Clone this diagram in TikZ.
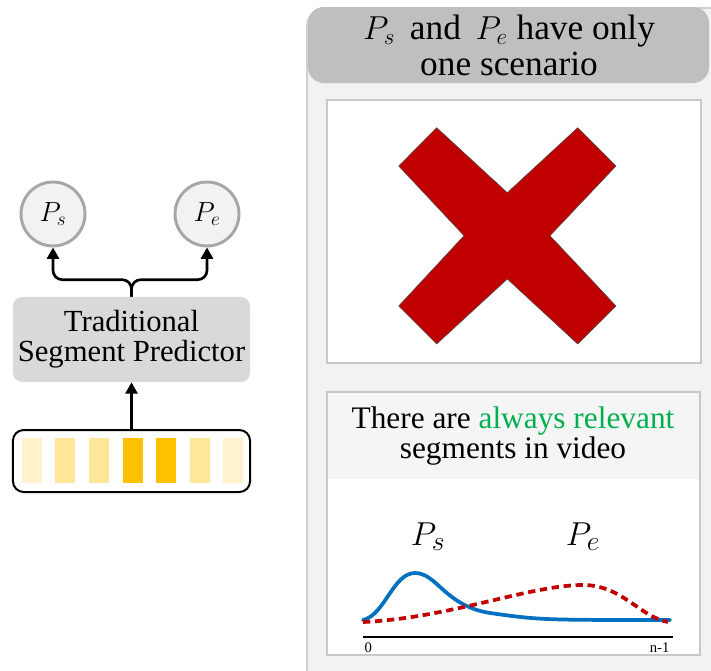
\documentclass[tikz,border=0pt]{standalone}
\usepackage{fontspec}
\setmainfont{Liberation Serif}
\usetikzlibrary{arrows.meta, positioning, calc}

\definecolor{predgray}{HTML}{D9D9D9}
\definecolor{panelbg}{HTML}{F2F2F2}
\definecolor{paneledge}{HTML}{D0D0D0}
\definecolor{headgray}{HTML}{BFBFBF}
\definecolor{cardedge}{HTML}{C8C8C8}
\definecolor{probedge}{HTML}{A6A6A6}
\definecolor{crossred}{HTML}{C00000}
\definecolor{relgreen}{HTML}{00B050}
\definecolor{startblue}{HTML}{0070C0}
\definecolor{barlight}{HTML}{FFF2CC}
\definecolor{barmid}{HTML}{FFE699}
\definecolor{bardark}{HTML}{FFC000}

\begin{document}
\begin{tikzpicture}[x=0.75pt, y=-0.75pt,
    arr/.style={line width=2pt, -{Triangle[length=8.5pt, width=9pt]}},
    prob/.style={circle, draw=probedge, fill=panelbg, line width=2.2pt,
      minimum size=48pt, inner sep=0pt, font=\fontsize{22}{22}\selectfont},
    card/.style={draw=cardedge, line width=1.2pt}]
  \useasboundingbox (0,0) rectangle (711,671);

  % left: traditional predictor
  \node[prob] (ps) at (53,214) {$P_s$};
  \node[prob] (pe) at (207,214) {$P_e$};
  \node[fill=predgray, rounded corners=7pt, minimum width=177.8pt, minimum height=63.8pt,
    align=center, font=\fontsize{23}{22.5}\selectfont] (pred) at (131.5,339.5)
    {Traditional\\Segment Predictor};
  \node[draw, line width=1.5pt, rounded corners=8pt, minimum width=177.8pt,
    minimum height=46.5pt] (seq) at (131.5,461) {};
  \foreach \i/\c in {0/barlight, 1/barmid, 2/barmid, 3/bardark, 4/bardark, 5/barmid, 6/barlight}
    \fill[\c] (21.7+33.6*\i,438) rectangle ++(20,45);

  \draw[arr] (seq) -- (pred);
  \draw[arr, rounded corners=7pt] (pred.north) -- ++(0,-17) -| (ps.south);
  \draw[arr, rounded corners=7pt] (pred.north) -- ++(0,-17) -| (pe.south);

  % right: panel
  \draw[fill=panelbg, draw=paneledge, line width=1.5pt, rounded corners=14pt]
    (307,8) rectangle (730,690);
  \fill[headgray, rounded corners=12pt] (308,7) rectangle (709,83);
  \node[align=center, font=\fontsize{26.5}{27}\selectfont] (head) at (509,45)
    {$P_s$ \,and\, $P_e$ have only\\one scenario};

  \draw[card, fill=white] (327,100) rectangle (701,363);
  \draw[fill=crossred, draw=black!70, line width=0.4pt]
    (436.7,127.7) -- (507.3,192.7) -- (577.7,127.7) -- (616,166) -- (550,235.7)
    -- (616,306) -- (577.7,344) -- (507.3,279) -- (436.7,344) -- (398.7,306)
    -- (464,235.7) -- (398.7,166) -- cycle;

  \draw[card, fill=white] (327,392) rectangle (700,655);
  \fill[panelbg!80!white] (328,393) rectangle (699,479);
  \node[align=center, font=\fontsize{23.5}{22.5}\selectfont] (note) at (513,436)
    {There are \textcolor{relgreen}{always relevant}\\segments in video};

  % distributions
  \draw[startblue, line width=2.8pt, line cap=round]
    (363,620) .. controls (385,615) and (393,573) .. (415,573)
    .. controls (437,573) and (445,606) .. (490,613)
    .. controls (540,620) .. (670,620);
  \draw[crossred, line width=2.8pt, dash pattern=on 5.5pt off 3.5pt]
    (363,622) .. controls (450,618) and (530,585) .. (583,585)
    .. controls (622,585) and (640,617) .. (668,622);
  \coordinate (ax0) at (363,637);
  \coordinate (ax1) at (673,637);
  \draw[line width=1.6pt] (ax0) -- (ax1);
  \node[font=\fontsize{32}{32}\selectfont] (lps) at (428,537) {$P_s$};
  \node[font=\fontsize{32}{32}\selectfont] (lpe) at (583,537) {$P_e$};
  \node[font=\fontsize{11}{11}\selectfont, below=1pt of ax0, xshift=4pt] (l0) {0};
  \node[font=\fontsize{11}{11}\selectfont, below=1pt of ax1, xshift=-10pt] (ln) {n-1};
\end{tikzpicture}
\end{document}
